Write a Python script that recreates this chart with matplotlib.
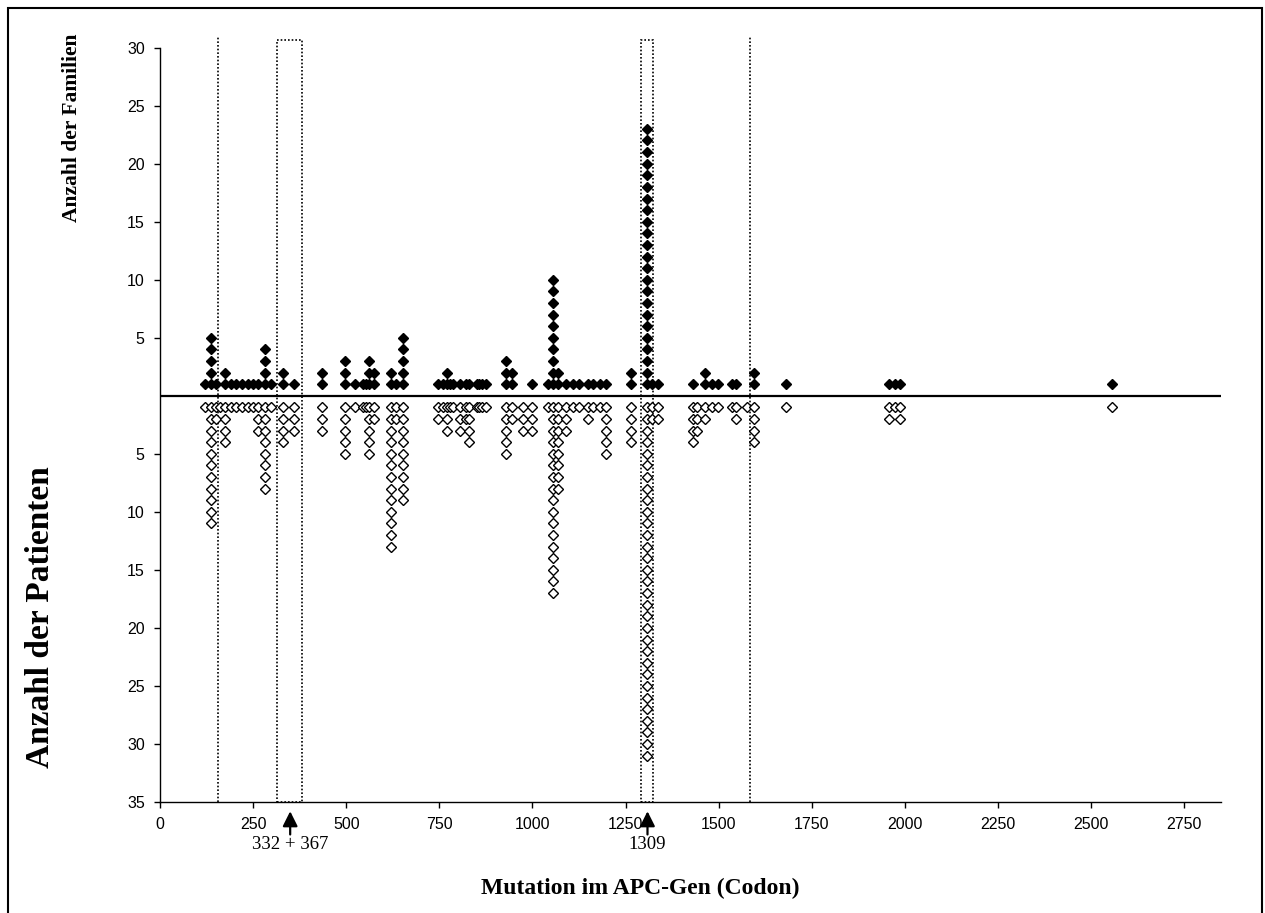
import matplotlib
matplotlib.use("Agg")
import matplotlib.pyplot as plt
from matplotlib.patches import Rectangle

# codon positions of the mutations, number of families (up) and patients (down)
codons = [121, 137, 150, 160, 175, 190, 205, 220, 236, 251, 264, 282, 298, 331, 360,
          434, 497, 524, 545, 552, 560, 575, 620, 635, 653, 747, 760, 770, 779, 788,
          805, 822, 830, 850, 856, 864, 875, 928, 945, 976, 998, 1043, 1056, 1070, 1090,
          1108, 1125, 1150, 1163, 1181, 1197, 1266, 1309, 1322, 1336, 1430, 1441, 1463, 1481, 1497,
          1535, 1546, 1577, 1596, 1681, 1957, 1973, 1987, 2555]
families = [1, 5, 1, 0, 2, 1, 1, 1, 1, 1, 1, 4, 1, 2, 1,
            2, 3, 1, 1, 1, 3, 2, 2, 1, 5, 1, 1, 2, 1, 1,
            1, 1, 1, 1, 1, 1, 1, 3, 2, 0, 1, 1, 10, 2, 1,
            1, 1, 1, 1, 1, 1, 2, 23, 1, 1, 1, 0, 2, 1, 1,
            1, 1, 0, 2, 1, 1, 1, 1, 1]
patients = [1, 11, 2, 1, 4, 1, 1, 1, 1, 1, 3, 8, 1, 4, 3,
            3, 5, 1, 1, 1, 5, 2, 13, 2, 9, 2, 1, 3, 1, 1,
            3, 2, 4, 1, 1, 1, 1, 5, 2, 3, 3, 1, 17, 8, 3,
            1, 1, 2, 1, 1, 5, 4, 31, 2, 2, 4, 3, 2, 1, 1,
            1, 2, 1, 4, 1, 2, 1, 2, 1]

# region borders and hotspot boxes
region_lines = [157, 1583]
hotspot_boxes = [(315, 380), (1292, 1325)]
arrow_marks = [(349.5, "332 + 367"), (1309, "1309")]

xticks = list(range(0, 2751, 250))
yticks_up = [5, 10, 15, 20, 25, 30]
yticks_down = [5, 10, 15, 20, 25, 30, 35]

fam_x, fam_y, pat_x, pat_y = [], [], [], []
for c, f, p in zip(codons, families, patients):
    for k in range(1, f + 1):
        fam_x.append(c)
        fam_y.append(k)
    for k in range(1, p + 1):
        pat_x.append(c)
        pat_y.append(-k)

fig = plt.figure(figsize=(12.65, 9.13), dpi=100)
ax = fig.add_axes([0.1265, 0.1216, 0.9655 - 0.1265, 0.9478 - 0.1216])

ax.plot(pat_x, pat_y, linestyle="none", marker="D", ms=4.7, mfc="white",
        mec="black", mew=1.0, zorder=3)
ax.plot(fam_x, fam_y, linestyle="none", marker="D", ms=4.7, mfc="black",
        mec="black", mew=1.0, zorder=3)

ax.axhline(0, color="black", lw=1.6, zorder=2)

for x in region_lines:
    ax.plot([x, x], [-35, 31], color="black", lw=1.2, ls=(0, (1, 1.2)),
            clip_on=False, zorder=1)
for x0, x1 in hotspot_boxes:
    ax.add_patch(Rectangle((x0, -35), x1 - x0, 65.7, fill=False, ec="black",
                           lw=1.2, ls=(0, (1, 1.2)), clip_on=False, zorder=1))

for x, txt in arrow_marks:
    ax.annotate("", xy=(x, -35.8), xytext=(x, -37.8), annotation_clip=False,
                arrowprops=dict(arrowstyle="-|>,head_length=0.6,head_width=0.3",
                                color="black", lw=1.6, mutation_scale=15,
                                shrinkA=0, shrinkB=0))
    ax.text(x, -38.7, txt, ha="center", va="center", fontsize=13.5,
            family="Liberation Serif")

ax.set_xlim(0, 2850)
ax.set_ylim(-35, 30)
ax.set_xticks(xticks)
ax.set_xticklabels([str(t) for t in xticks], family="Liberation Sans", fontsize=11.5)
yt = [-t for t in yticks_down] + yticks_up
ax.set_yticks(yt)
ax.set_yticklabels([str(abs(t)) for t in yt], family="Liberation Sans", fontsize=11.5)
ax.tick_params(direction="out", length=4, width=1, pad=7)

for side in ["top", "right"]:
    ax.spines[side].set_visible(False)
for side in ["left", "bottom"]:
    ax.spines[side].set_linewidth(1.0)

fig.text(0.057, 0.86, "Anzahl der Familien", rotation=90, ha="center", va="center",
         fontsize=15.5, fontweight="bold", family="Liberation Serif")
fig.text(0.032, 0.324, "Anzahl der Patienten", rotation=90, ha="center", va="center",
         fontsize=24, fontweight="bold", family="Liberation Serif")
fig.text(0.506, 0.027, "Mutation im APC-Gen (Codon)", ha="center", va="center",
         fontsize=17, fontweight="bold", family="Liberation Serif")

# frame around the whole figure
fig.patches.append(Rectangle((8 / 1265, -0.01), 1254 / 1265, 1 - 8 / 913 + 0.01,
                             transform=fig.transFigure, fill=False, ec="black", lw=1.5))

fig.savefig("out.png", dpi=100)
